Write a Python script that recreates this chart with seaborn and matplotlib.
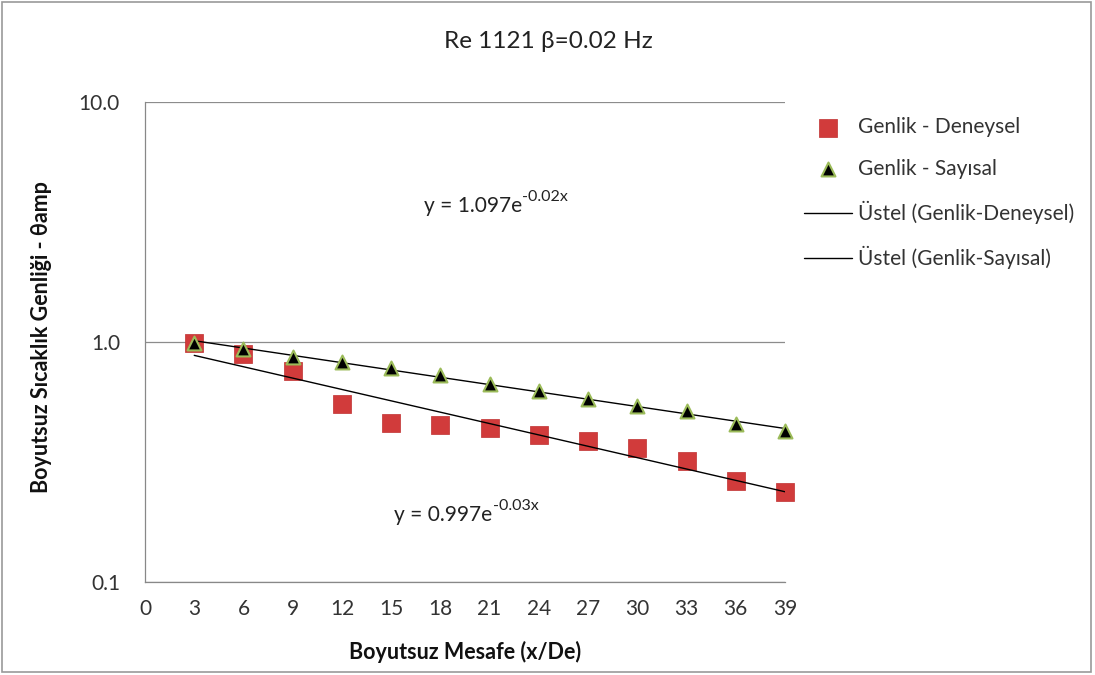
import numpy as np
import pandas as pd
import matplotlib
matplotlib.use("Agg")
import matplotlib.pyplot as plt
import seaborn as sns
from matplotlib.patches import Rectangle
from matplotlib.ticker import FixedLocator, FixedFormatter, NullLocator

distance = [3, 6, 9, 12, 15, 18, 21, 24, 27, 30, 33, 36, 39]
amp_exp = [0.99, 0.89, 0.76, 0.55, 0.46, 0.45, 0.44, 0.41, 0.387, 0.36, 0.32, 0.263, 0.237]
amp_num = [0.99, 0.935, 0.866, 0.825, 0.78, 0.73, 0.67, 0.625, 0.58, 0.54, 0.515, 0.455, 0.425]

x_ticks = list(range(0, 40, 3))
y_ticks = [0.1, 1.0, 10.0]
y_tick_labels = ["0.1", "1.0", "10.0"]

# equation labels: base + superscript (hyphen kept as in excel)
eq_num = ("y = 1.097e", "-0.02x")
eq_exp = ("y = 0.997e", "-0.03x")

sns.set_theme(style="white")
plt.rcParams['font.family'] = ['Lato', 'DejaVu Sans']

df = pd.DataFrame({"x": distance, "exp": amp_exp, "num": amp_num})

# exponential trend lines fitted on the data (excel "Üstel")
b_exp, a_exp = np.polyfit(df["x"], np.log(df["exp"]), 1)
b_num, a_num = np.polyfit(df["x"], np.log(df["num"]), 1)
df["fit_exp"] = np.exp(a_exp + b_exp * df["x"])
df["fit_num"] = np.exp(a_num + b_num * df["x"])

fig = plt.figure(figsize=(10.95, 6.75), dpi=100)
ax = fig.add_axes([145 / 1095, 1 - 582 / 675, 640 / 1095, 480 / 675])

sns.lineplot(data=df, x="x", y="fit_exp", ax=ax, color="black", linewidth=1.0,
             label="Üstel (Genlik-Deneysel)", zorder=4)
sns.lineplot(data=df, x="x", y="fit_num", ax=ax, color="black", linewidth=1.0,
             label="Üstel (Genlik-Sayısal)", zorder=4)
sns.scatterplot(data=df, x="x", y="exp", ax=ax, marker="s", s=160, color="#D13B3B",
                edgecolor="#C03030", linewidth=0.5, label="Genlik - Deneysel", zorder=3, clip_on=False)
sns.scatterplot(data=df, x="x", y="num", ax=ax, marker="^", s=100, color="black",
                edgecolor="#9BBB59", linewidth=1.5, label="Genlik - Sayısal", zorder=5, clip_on=False)

ax.set_yscale("log")
ax.set_xlim(0, 39)
ax.set_ylim(0.1, 10)
ax.xaxis.set_major_locator(FixedLocator(x_ticks))
ax.yaxis.set_major_locator(FixedLocator(y_ticks))
ax.yaxis.set_major_formatter(FixedFormatter(y_tick_labels))
ax.yaxis.set_minor_locator(NullLocator())
ax.tick_params(axis="both", labelsize=15, labelcolor="#333333", length=0)
ax.tick_params(axis="x", pad=12)
ax.tick_params(axis="y", pad=18)
ax.grid(axis="y", color="#8C8C8C", linewidth=0.9)
for s in ["top", "right"]:
    ax.spines[s].set_visible(False)
for s in ["left", "bottom"]:
    ax.spines[s].set_color("#888888")
    ax.spines[s].set_linewidth(0.9)

ax.set_xlabel("Boyutsuz Mesafe (x/De)", fontsize=15.5, fontweight="bold", color="#111111", labelpad=16)
ax.set_ylabel("Boyutsuz Sıcaklık Genliği - θamp", fontsize=15.5, fontweight="bold", color="#111111")
ax.yaxis.set_label_coords(52 / 1095, 0.5, transform=fig.transFigure)
fig.text(548 / 1095, 1 - 42 / 675, "Re 1121 β=0.02 Hz", ha="center", va="center", fontsize=17.5, color="#222222")

for (base, sup), (xe, ye) in [(eq_num, (17.0, 3.7)), (eq_exp, (15.2, 0.19))]:
    t = ax.text(xe, ye, base, ha="left", va="center", fontsize=15, color="#222222")
    ax.annotate(sup, xy=(1, 0.6), xycoords=t, ha="left", va="bottom", fontsize=11.5, color="#222222")

handles, labels = ax.get_legend_handles_labels()
order = [labels.index(l) for l in ["Genlik - Deneysel", "Genlik - Sayısal",
                                    "Üstel (Genlik-Deneysel)", "Üstel (Genlik-Sayısal)"]]
ax.legend([handles[i] for i in order], [labels[i] for i in order], loc="upper left",
          bbox_to_anchor=(804 / 1095, 1 - 117 / 675), bbox_transform=fig.transFigure,
          frameon=False, fontsize=15, labelspacing=1.05, handlelength=2.3, handletextpad=0.3,
          borderpad=0, borderaxespad=0, labelcolor="#333333")

fig.patches.append(Rectangle((0.002, 0.004), 0.994, 0.993, transform=fig.transFigure,
                             fill=False, edgecolor="#999999", linewidth=1.2))

fig.savefig("out.png", dpi=100)
